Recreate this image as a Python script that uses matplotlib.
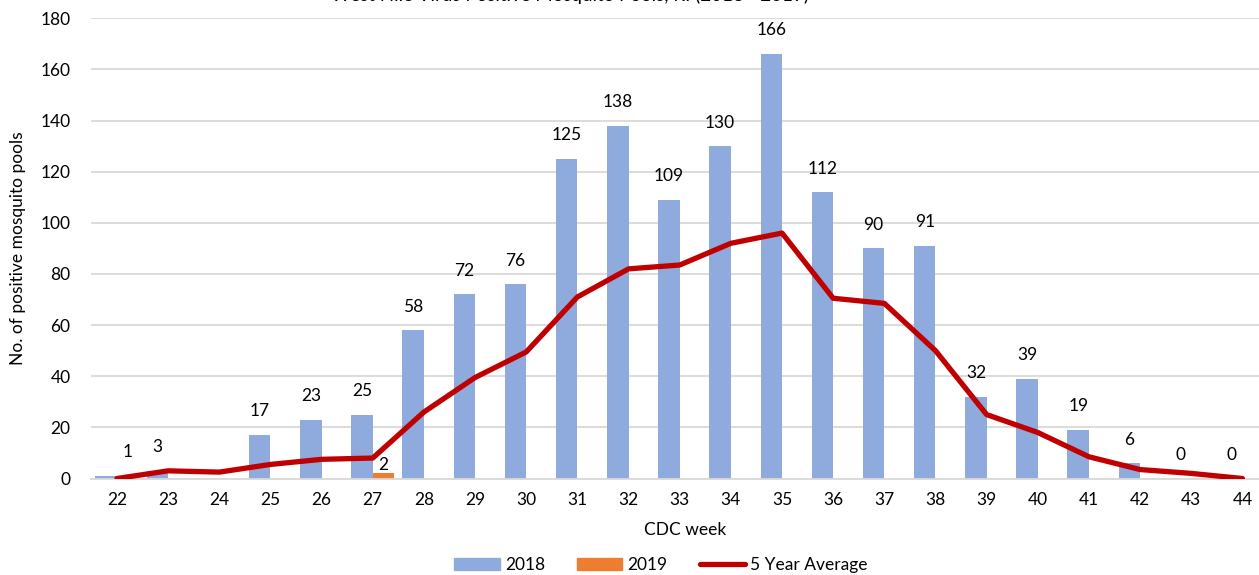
import numpy as np
import matplotlib
matplotlib.use("Agg")
import matplotlib.pyplot as plt
from matplotlib.patches import Patch
from matplotlib.lines import Line2D

plt.rcParams['font.family'] = ['Lato', 'DejaVu Sans']

weeks = list(range(22, 45))
y2018 = [1, 3, None, 17, 23, 25, 58, 72, 76, 125, 138, 109, 130, 166, 112, 90, 91, 32, 39, 19, 6, 0, 0]
y2019 = [None, None, None, None, None, 2, None, None, None, None, None, None, None, None, None, None, None, None, None, None, None, None, None]
avg5 = [0, 3, 2.5, 5.5, 7.5, 8, 26, 39.5, 49.5, 71, 82, 83.5, 92, 96, 70.5, 68.5, 50, 25, 18, 8.5, 3.5, 2, 0]
title = "West Nile Virus Positive Mosquito Pools, RI (2018 - 2019)"

C18 = "#8FAADC"
C19 = "#ED7D31"
CAVG = "#C00000"
GRID = "#D9D9D9"

fig = plt.figure(figsize=(12.59, 5.75), dpi=100)
ax = fig.add_axes([91.4 / 1259, 1 - 478.5 / 575, (1268 - 91.4) / 1259, 460.2 / 575])

x = np.array(weeks, dtype=float)
w = 0.42
v18 = np.array([np.nan if v is None else v for v in y2018], dtype=float)
v19 = np.array([np.nan if v is None else v for v in y2019], dtype=float)

ax.bar(x - w / 2, np.nan_to_num(v18), width=w, color=C18, zorder=2)
ax.bar(x + w / 2, np.nan_to_num(v19), width=w, color=C19, zorder=2)
ax.plot(x, avg5, color=CAVG, lw=3.8, solid_capstyle='round', solid_joinstyle='round', zorder=3)

for xi, v in zip(x, v18):
    if np.isnan(v):
        continue
    dx = 21 if xi == 22 else 0
    ax.annotate(f"{int(v)}", (xi - w / 2, v), xytext=(dx * 0.72, 17), textcoords='offset points',
                ha='center', va='center', fontsize=12.5, color='#000000', zorder=4)
for xi, v in zip(x, v19):
    if np.isnan(v):
        continue
    ax.annotate(f"{int(v)}", (xi + w / 2, v), xytext=(0, 6), textcoords='offset points',
                ha='center', va='center', fontsize=12.5, color='#000000', zorder=4)

ax.set_xlim(21.5, 44.5)
ax.set_ylim(0, 180)
ax.set_yticks(range(0, 181, 20))
ax.set_xticks(weeks)
ax.yaxis.grid(True, color=GRID, lw=1.3, zorder=0)
ax.set_axisbelow(True)
for s in ['top', 'right', 'left']:
    ax.spines[s].set_visible(False)
ax.spines['bottom'].set_color(GRID)
ax.spines['bottom'].set_linewidth(1.3)
ax.tick_params(axis='both', length=0, labelsize=12.5, colors='#000000')
ax.tick_params(axis='y', pad=15)
ax.tick_params(axis='x', pad=10)
ax.set_xlabel("CDC week", fontsize=12.5)
ax.xaxis.label.set_va('center')
ax.xaxis.set_label_coords((685 - 91.4) / (1268 - 91.4), -(530 - 478.5) / 460.2)
ax.set_ylabel("No. of positive mosquito pools", fontsize=12.5)
ax.yaxis.label.set_va('center')
ax.yaxis.set_label_coords(-(91.4 - 18) / (1268 - 91.4), 0.5)

fig.text(570 / 1259, 1 - 1.5 / 575, title, ha='center', va='baseline', fontsize=13.5)

handles = [Patch(color=C18, label='2018'), Patch(color=C19, label='2019'),
           Line2D([0], [0], color=CAVG, lw=3.8, label='5 Year Average', solid_capstyle='round')]
fig.legend(handles=handles, loc='center', bbox_to_anchor=(661 / 1259, 1 - 565 / 575), ncol=3,
           frameon=False, fontsize=12.5, handlelength=2.6, handleheight=0.7, columnspacing=1.85,
           handletextpad=0.3)

fig.savefig("out.png", dpi=100)
